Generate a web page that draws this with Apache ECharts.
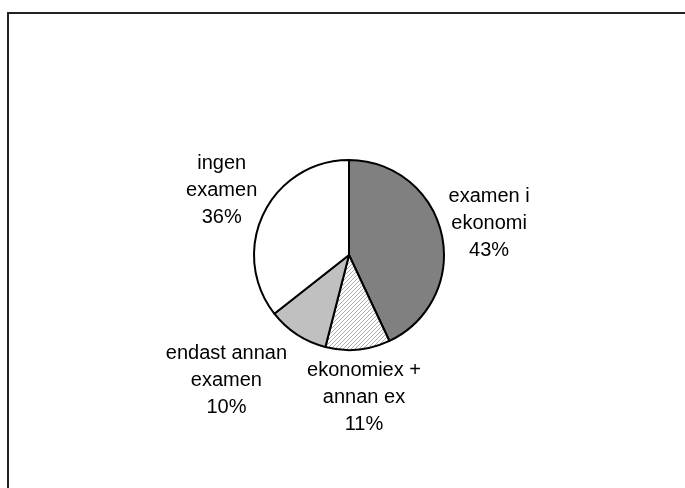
<!DOCTYPE html>
<html>
<head>
<meta charset="utf-8">
<script src="https://cdn.jsdelivr.net/npm/echarts@6/dist/echarts.min.js"></script>
<style>
  html, body { margin: 0; padding: 0; background: #fff; }
  #main { width: 685px; height: 488px; }
</style>
</head>
<body>
<div id="main"></div>
<script>
// slices, clockwise from 12 o'clock
var names = ['examen i\nekonomi', 'ekonomiex +\nannan ex', 'endast annan\nexamen', 'ingen\nexamen'];
var values = [43.0, 11.0, 10.4, 35.6];

var pieCenter = [349, 255];
var pieRadius = 95;
var labelGap = 7;
var labelMargin = 20;

// diagonal hatch for the second slice
function hatch() {
    var c = document.createElement('canvas');
    c.width = 4;
    c.height = 4;
    var ctx = c.getContext('2d');
    ctx.fillStyle = '#fff';
    ctx.fillRect(0, 0, 4, 4);
    ctx.fillStyle = '#adadad';
    for (var x = 0; x < 4; x++) {
        ctx.fillRect(x, 3 - x, 1, 1);
    }
    return c;
}

var fills = ['#808080', { image: hatch(), repeat: 'repeat' }, '#c0c0c0', '#ffffff'];

var total = values.reduce(function (a, b) { return a + b; }, 0);
var midAngles = [];
var acc = 0;
values.forEach(function (v) {
    midAngles.push((acc + v / 2) / total * Math.PI * 2);
    acc += v;
});

var placed = [];

var chart = echarts.init(document.getElementById('main'));
var option = {
    animation: false,
    backgroundColor: '#fff',
    graphic: [
        {
            type: 'rect',
            shape: { x: 8, y: 13, width: 700, height: 500 },
            style: { fill: 'none', stroke: '#222', lineWidth: 2 },
            silent: true
        }
    ],
    series: [
        {
            type: 'pie',
            center: pieCenter,
            radius: pieRadius,
            startAngle: 90,
            clockwise: true,
            avoidLabelOverlap: false,
            percentPrecision: 0,
            itemStyle: {
                borderColor: '#000',
                borderWidth: 2
            },
            emphasis: { disabled: true },
            label: {
                show: true,
                position: 'outside',
                formatter: '{b}\n{d}%',
                fontFamily: 'Liberation Sans, Arial, sans-serif',
                fontSize: 20,
                lineHeight: 27,
                color: '#000',
                align: 'center'
            },
            labelLine: { show: false },
            labelLayout: function (p) {
                var a = midAngles[p.dataIndex];
                var dx = Math.sin(a), dy = -Math.cos(a);
                var m = Math.max(Math.abs(dx), Math.abs(dy));
                var r = pieRadius + labelGap;
                var hw = p.labelRect.width / 2, hh = p.labelRect.height / 2;
                var x = pieCenter[0] + r * dx + hw * dx / m;
                var y = pieCenter[1] + r * dy + hh * dy / m;
                // keep clear of labels already placed (push sideways)
                placed.forEach(function (b) {
                    if (Math.abs(y - b.y) < hh + b.hh) {
                        var need = hw + b.hw + labelMargin;
                        if (Math.abs(x - b.x) < need) {
                            x = x < b.x ? b.x - need : b.x + need;
                        }
                    }
                });
                placed.push({ x: x, y: y, hw: hw, hh: hh });
                return { x: x, y: y, align: 'center', verticalAlign: 'middle' };
            },
            data: names.map(function (n, i) {
                return { name: n, value: values[i], itemStyle: { color: fills[i] } };
            })
        }
    ]
};
chart.setOption(option);
</script>
</body>
</html>
